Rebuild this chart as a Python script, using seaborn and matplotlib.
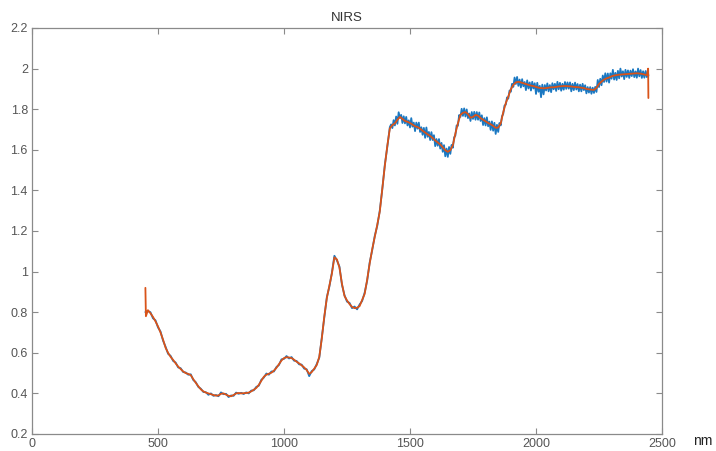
import numpy as np
import pandas as pd
import matplotlib
matplotlib.use("Agg")
import matplotlib.pyplot as plt
from matplotlib.ticker import FuncFormatter
import seaborn as sns

# ---- data ----
# smoothed (orange) spectrum, 10 nm steps plus the end spikes
smooth_wl = [450, 452] + list(range(460, 2450, 10)) + [2445, 2446]
smooth = [0.92, 0.78,
    0.810, 0.795, 0.777, 0.755, 0.730, 0.700, 0.665, 0.625, 0.600, 0.580,
    0.565, 0.548, 0.532, 0.520, 0.508, 0.500, 0.496, 0.490, 0.470, 0.452,
    0.435, 0.420, 0.410, 0.404, 0.400, 0.396, 0.392, 0.389, 0.390, 0.398,
    0.400, 0.394, 0.388, 0.386, 0.392, 0.400, 0.402, 0.400, 0.401, 0.402,
    0.404, 0.410, 0.418, 0.427, 0.442, 0.462, 0.482, 0.492, 0.497, 0.502,
    0.512, 0.526, 0.544, 0.562, 0.574, 0.578, 0.577, 0.574, 0.566, 0.556,
    0.548, 0.538, 0.528, 0.515, 0.496, 0.505, 0.522, 0.540, 0.580, 0.670,
    0.780, 0.870, 0.930, 0.990, 1.070, 1.060, 1.020, 0.940, 0.880, 0.858,
    0.840, 0.826, 0.820, 0.822, 0.830, 0.860, 0.890, 0.960, 1.040, 1.110,
    1.170, 1.230, 1.295, 1.410, 1.520, 1.620, 1.705, 1.722, 1.730, 1.748,
    1.762, 1.752, 1.742, 1.738, 1.732, 1.724, 1.716, 1.712, 1.704, 1.694,
    1.685, 1.676, 1.668, 1.658, 1.646, 1.636, 1.626, 1.612, 1.598, 1.590,
    1.598, 1.622, 1.680, 1.730, 1.772, 1.782, 1.786, 1.776, 1.758, 1.762,
    1.772, 1.768, 1.756, 1.748, 1.740, 1.732, 1.726, 1.718, 1.708, 1.710,
    1.730, 1.785, 1.830, 1.862, 1.898, 1.920, 1.932, 1.935, 1.932, 1.928,
    1.924, 1.920, 1.916, 1.914, 1.910, 1.906, 1.904, 1.903, 1.904, 1.906,
    1.908, 1.908, 1.910, 1.912, 1.913, 1.914, 1.914, 1.913, 1.912, 1.910,
    1.909, 1.908, 1.906, 1.904, 1.900, 1.898, 1.896, 1.895, 1.905, 1.924,
    1.936, 1.946, 1.952, 1.956, 1.962, 1.966, 1.968, 1.970, 1.971, 1.972,
    1.973, 1.974, 1.975, 1.976, 1.977, 1.976, 1.974, 1.971, 1.968,
    2.00, 1.855]

# raw (blue) spectrum: 10 nm steps up to 1420 nm, 5 nm steps after
raw_wl = [450, 452] + list(range(460, 1430, 10)) + list(range(1425, 2445, 5)) + [2445, 2446]
raw = [0.80, 0.805,
    0.805, 0.800, 0.770, 0.760, 0.725, 0.705, 0.660, 0.630, 0.595, 0.585,
    0.560, 0.552, 0.528, 0.524, 0.505, 0.503, 0.492, 0.494, 0.466, 0.455,
    0.432, 0.423, 0.407, 0.406, 0.393, 0.400, 0.388, 0.392, 0.386, 0.405,
    0.396, 0.398, 0.382, 0.390, 0.388, 0.404, 0.398, 0.403, 0.397, 0.405,
    0.400, 0.414, 0.415, 0.432, 0.438, 0.467, 0.478, 0.498, 0.492, 0.508,
    0.508, 0.530, 0.540, 0.568, 0.570, 0.584, 0.572, 0.579, 0.561, 0.560,
    0.543, 0.542, 0.522, 0.519, 0.485, 0.510, 0.518, 0.545, 0.576, 0.674,
    0.776, 0.874, 0.926, 0.994, 1.078, 1.055, 1.025, 0.935, 0.884, 0.852,
    0.846, 0.820, 0.828, 0.814, 0.838, 0.855, 0.896, 0.955, 1.045, 1.105,
    1.175, 1.225, 1.300, 1.405, 1.525, 1.615, 1.712,
    # 1425 .. 2440 nm, 5 nm steps
    1.725, 1.707, 1.746, 1.720, 1.764, 1.728, 1.785, 1.757, 1.772, 1.732,
    1.765, 1.730, 1.762, 1.720, 1.745, 1.710, 1.756, 1.714, 1.734, 1.692,
    1.734, 1.704, 1.734, 1.688, 1.711, 1.674, 1.708, 1.659, 1.710, 1.664,
    1.688, 1.648, 1.687, 1.648, 1.672, 1.618, 1.653, 1.620, 1.653, 1.606,
    1.634, 1.590, 1.623, 1.568, 1.606, 1.565, 1.614, 1.580, 1.624, 1.610,
    1.661, 1.670, 1.720, 1.718, 1.771, 1.762, 1.802, 1.767, 1.804, 1.764,
    1.799, 1.756, 1.779, 1.742, 1.786, 1.752, 1.787, 1.748, 1.786, 1.748,
    1.784, 1.742, 1.770, 1.722, 1.756, 1.720, 1.760, 1.716, 1.739, 1.698,
    1.740, 1.694, 1.733, 1.678, 1.723, 1.688, 1.732, 1.720, 1.765, 1.777,
    1.818, 1.822, 1.858, 1.852, 1.892, 1.886, 1.925, 1.910, 1.956, 1.924,
    1.959, 1.915, 1.946, 1.907, 1.948, 1.913, 1.934, 1.894, 1.942, 1.902,
    1.932, 1.892, 1.935, 1.902, 1.928, 1.875, 1.930, 1.886, 1.915, 1.859,
    1.921, 1.873, 1.919, 1.892, 1.927, 1.888, 1.919, 1.884, 1.928, 1.898,
    1.925, 1.890, 1.935, 1.898, 1.930, 1.891, 1.925, 1.896, 1.934, 1.900,
    1.932, 1.901, 1.932, 1.888, 1.925, 1.894, 1.931, 1.897, 1.924, 1.888,
    1.921, 1.888, 1.925, 1.894, 1.918, 1.878, 1.909, 1.882, 1.909, 1.876,
    1.906, 1.880, 1.910, 1.885, 1.944, 1.909, 1.950, 1.918, 1.966, 1.934,
    1.977, 1.936, 1.976, 1.931, 1.977, 1.950, 1.994, 1.946, 1.979, 1.944,
    1.989, 1.952, 2.000, 1.961, 1.987, 1.948, 1.994, 1.959, 1.991, 1.954,
    1.990, 1.963, 1.997, 1.958, 1.986, 1.955, 2.000, 1.962, 1.993, 1.954,
    1.987, 1.955, 1.988, 1.958,
    1.975, 1.965]

x_ticks = [0, 500, 1000, 1500, 2000, 2500]
y_ticks = [0.2, 0.4, 0.6, 0.8, 1.0, 1.2, 1.4, 1.6, 1.8, 2.0, 2.2]
title_text = "NIRS"
x_unit = "nm"

# ---- plot ----
sns.set_theme(style="white")
plt.rcParams["font.family"] = ["Liberation Sans", "DejaVu Sans"]

df_raw = pd.DataFrame({"wl": raw_wl, "val": raw})
df_smooth = pd.DataFrame({"wl": smooth_wl, "val": smooth})

fig = plt.figure(figsize=(7.16, 4.51), dpi=100)
ax = fig.add_axes([32 / 716, 1 - 434 / 451, 630 / 716, 406 / 451])

sns.lineplot(data=df_raw, x="wl", y="val", ax=ax, color="#1a78c2",
             linewidth=1.3, estimator=None, sort=False)
sns.lineplot(data=df_smooth, x="wl", y="val", ax=ax, color="#d95319",
             linewidth=1.3, estimator=None, sort=False)

ax.set_xlim(0, 2500)
ax.set_ylim(0.2, 2.2)
ax.set_xticks(x_ticks)
ax.set_yticks(y_ticks)
ax.yaxis.set_major_formatter(FuncFormatter(lambda v, p: "%g" % round(v, 2)))
ax.xaxis.set_major_formatter(FuncFormatter(lambda v, p: "%g" % v))
ax.set_xlabel("")
ax.set_ylabel("")

for s in ax.spines.values():
    s.set_visible(True)
    s.set_color("#8a8a8a")
    s.set_linewidth(0.9)
ax.tick_params(axis="both", which="both", direction="in", length=4,
               width=0.8, color="#8a8a8a", top=True, right=True,
               bottom=True, left=True, labelsize=9, labelcolor="#555555",
               pad=3)

ax.set_title(title_text, fontsize=9.5, color="#333333", pad=5)
fig.text(703 / 716, 1 - 441 / 451, x_unit, fontsize=10, color="#222222",
         ha="center", va="center")

fig.savefig("out.png", dpi=100)
